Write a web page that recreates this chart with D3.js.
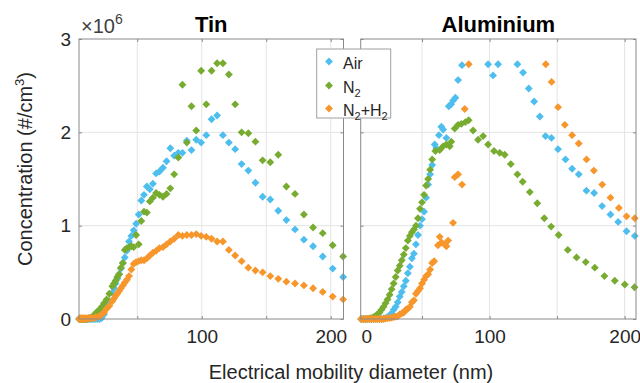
<!DOCTYPE html>
<html><head><meta charset="utf-8">
<script src="https://cdn.jsdelivr.net/npm/d3@7"></script>
<style>
html,body{margin:0;padding:0;background:#fff;}
svg{display:block;font-family:"Liberation Sans",Arial,Helvetica,sans-serif;}
</style></head><body>
<svg id="chart" width="640" height="383"></svg>
<script>
// ---------- DATA ----------
const seriesNames = ['Air', 'N2', 'N2+H2'];
const colors = ['#4DBEEE', '#77AC30', '#F7962B'];
const xTicks = [50, 100, 150, 200];
const xTickLabels = ['', '100', '', '200'];
const yTicks = [0, 1, 2, 3];
const yTickLabels = ['0', '1', '2', '3'];

// Tin (x 1e6 #/cm3), shared mobility-diameter bins (nm)
const tinDiam = [5.0,5.5,5.9,6.4,6.9,7.5,8.1,8.7,9.4,10.2,
  11.0,11.9,12.9,14.0,15.1,16.3,17.7,19.1,20.7,22.4,
  24.2,26.2,28.3,30.6,31.9,33.2,34.5,35.9,37.3,38.8,
  40.3,41.9,43.6,45.4,47.2,49.1,51.1,53.1,55.2,57.4,
  59.7,62.1,64.6,67.2,69.9,72.7,75.6,78.6,81.8,85.0,
  88.4,92.0,95.7,99.5,103.5,107.6,111.9,116.4,121.0,125.9,
  130.9,136.1,141.6,147.2,153.1,159.3,165.6,172.3,179.2,186.3,
  193.8,201.5,209.6];
const tinAir = [0,0,0,0,0,0,0,0,0,0,
  0,0,0,0,0,0,0,0,0,0.01,
  0.05,0.12,0.19,0.28,0.33,0.38,0.43,0.48,0.54,0.6,
  0.66,0.73,0.83,0.89,0.95,1.02,1.12,1.27,1.33,1.42,
  1.39,1.45,1.56,1.58,1.62,1.69,1.83,1.75,1.78,1.78,
  1.91,1.81,1.92,1.89,1.97,2.14,2.18,1.97,1.89,1.82,
  1.66,1.59,1.46,1.31,1.28,1.16,1.06,0.96,0.85,0.78,
  0.67,0.54,0.45];
const tinN2 = [0,0,0,0,0,0,0,0,0,0,
  0,0.01,0.01,0.01,0.02,0.04,0.06,0.08,0.1,0.13,
  0.17,0.21,0.27,0.35,0.38,0.41,0.45,0.48,0.55,0.6,
  0.74,0.76,0.77,0.78,0.77,0.9,0.8,1.05,1.15,1.14,
  1.26,1.3,1.35,1.33,1.31,1.34,1.4,1.55,1.73,2.51,
  1.89,2.28,2.02,2.66,2.3,2.66,2.74,2.74,2.62,2.3,
  2.0,1.99,1.9,1.7,1.68,1.76,1.42,1.34,1.12,0.98,
  0.92,0.79,0.67];
const tinN2H2 = [0,0.01,0,0.01,0,0.01,0,0.01,0,0.01,
  0,0.01,0.01,0.01,0.01,0.01,0.02,0.02,0.03,0.05,
  0.07,0.11,0.14,0.19,0.22,0.25,0.27,0.3,0.33,0.36,
  0.39,0.42,0.46,0.53,0.59,0.61,0.62,0.63,0.63,0.65,
  0.68,0.71,0.73,0.76,0.77,0.8,0.83,0.86,0.9,0.89,
  0.9,0.9,0.91,0.89,0.88,0.86,0.83,0.83,0.74,0.68,
  0.62,0.55,0.52,0.5,0.46,0.43,0.4,0.38,0.36,0.33,
  0.29,0.24,0.21];

// Aluminium
const alAirDiam = [5,6.5,8,9.5,11,12.5,14,15.5,17,18.5,
  20,21.5,23,24.5,26,27.5,29,30.5,32,33.5,
  35,36.5,38,39.5,41,42.5,44,45.5,47,48.5,
  50,51.5,53,54.5,56,57.5,59.4,60.6,62.5,64.3,
  65.6,68,69.8,71.5,73,74.7,76.7,79.6,98.9,102.6,
  106.3,120.6,124.8,129,133,137.2,141.4,145.8,150.7,156.2,
  161.1,166,171.7,177.4,183.3,189.5,195.2,201.4,207.5];
const alAir = [0,0,0,0,0,0,0,0,0,0,
  0,0.005,0.01,0.02,0.04,0.06,0.1,0.13,0.18,0.24,
  0.29,0.35,0.41,0.49,0.56,0.65,0.7,0.8,0.9,1.0,
  1.07,1.15,1.3,1.44,1.55,1.65,1.87,1.83,1.97,2.06,
  2.03,1.94,2.28,2.3,2.34,2.37,2.56,2.72,2.73,2.61,
  2.73,2.73,2.64,2.47,2.33,2.17,1.96,1.94,1.82,1.71,
  1.61,1.55,1.375,1.35,1.21,1.12,1.04,0.94,0.89];
const alN2Diam = [5,6.5,8,9.5,11,12.5,14,15.5,17,18.5,
  20,21.5,23,24.5,26,27.5,29,30.5,32,33.5,
  35,36.5,38,39.5,41,42.5,44,45.5,47,48.5,
  50,51.5,53,54.5,56,57.5,59.9,63.1,65.6,68,
  70.5,71.7,74.2,76.7,79.1,82.1,84.5,87.8,91.5,95.2,
  98.9,103.3,107.5,111.2,115.7,120.6,124.5,129.8,135.3,140.5,
  145.6,151.1,157.9,164.4,171.2,177.9,185,192.7,200.1,207.3];
const alN2 = [0,0,0,0,0.005,0.01,0.02,0.03,0.05,0.07,
  0.1,0.13,0.17,0.21,0.26,0.32,0.38,0.45,0.52,0.57,
  0.63,0.69,0.76,0.84,0.89,0.93,0.96,1.0,1.08,1.18,
  1.25,1.33,1.43,1.5,1.6,1.71,1.8,1.81,1.85,1.87,
  1.85,1.9,2.04,2.08,2.09,2.11,2.13,2.02,1.92,1.96,
  1.87,1.8,1.78,1.76,1.66,1.55,1.47,1.36,1.24,1.08,
  0.99,0.9,0.74,0.66,0.61,0.55,0.46,0.41,0.37,0.34];
const alN2H2Diam = [5,6.5,8,9.5,11,12.5,14,15.5,17,18.5,
  20,21.5,23,24.5,26,27.5,29,30.5,32,33.5,
  35,36.5,38,39.5,41,42.5,44,45.5,47,48.5,
  50,51.5,53,54.5,56,57.5,59,61.8,63.1,64.5,
  66.8,68,69.3,73,74.2,76.7,79.6,81.6,84.6,141.6,
  145.9,150.7,155.7,161.1,166,171.8,177.2,183.4,189.5,195.7,
  201.4,207.5];
const alN2H2 = [0,0,0,0,0,0,0,0,0,0,
  0,0,0.005,0.01,0.01,0.015,0.02,0.025,0.03,0.05,
  0.06,0.07,0.1,0.11,0.13,0.18,0.2,0.27,0.3,0.33,
  0.38,0.42,0.46,0.48,0.53,0.6,0.62,0.79,0.88,0.82,
  0.8,0.78,0.84,1.03,1.52,1.55,1.44,2.25,2.73,2.73,
  2.54,2.27,2.08,1.97,1.88,1.71,1.59,1.44,1.3,1.19,
  1.1,1.08];

// ---------- LAYOUT ----------
const svg = d3.select('#chart');
const yTop = 39, yBot = 319;
const axisGray = '#8a8a8a', gridGray = '#e4e4e4', textCol = '#262626';
const panels = [
  {title: 'Tin', x0: 79, x1: 343.5, dom: [4.8, 209.9], yLabels: true, zero: false,
   series: [[tinDiam, tinAir], [tinDiam, tinN2], [tinDiam, tinN2H2]]},
  {title: 'Aluminium', x0: 360.7, x1: 636, dom: [4.6, 208.4], yLabels: false, zero: true,
   series: [[alAirDiam, alAir], [alN2Diam, alN2], [alN2H2Diam, alN2H2]]}
];

const diamond = {draw(ctx, size){const r = Math.sqrt(size/2);
  ctx.moveTo(0,-r); ctx.lineTo(r,0); ctx.lineTo(0,r); ctx.lineTo(-r,0); ctx.closePath();}};
const sym = d3.symbol().type(diamond).size(31);

function styleAxis(a){
  a.select('.domain').remove();
  a.attr('font-family', null).attr('font-size', null);
  a.selectAll('.tick line').attr('stroke', axisGray);
  a.selectAll('.tick text').attr('fill', textCol).attr('font-size', 19);
}

panels.forEach(p => {
  const x = d3.scaleLinear().domain(p.dom).range([p.x0, p.x1]);
  const y = d3.scaleLinear().domain([0, 3]).range([yBot, yTop]);
  const g = svg.append('g');
  g.append('rect').attr('x', p.x0).attr('y', yTop).attr('width', p.x1 - p.x0).attr('height', yBot - yTop).attr('fill', '#fff');
  // grid
  g.append('g').selectAll('line').data(xTicks).join('line')
    .attr('x1', d => x(d)).attr('x2', d => x(d)).attr('y1', yTop).attr('y2', yBot)
    .attr('stroke', gridGray);
  g.append('g').selectAll('line').data(yTicks.filter(v => v > 0 && v < 3)).join('line')
    .attr('y1', d => y(d)).attr('y2', d => y(d)).attr('x1', p.x0).attr('x2', p.x1)
    .attr('stroke', gridGray);
  // axes
  const ab = g.append('g').attr('transform', `translate(0,${yBot})`)
    .call(d3.axisBottom(x).tickValues(xTicks).tickSize(-3).tickPadding(11).tickFormat((d, i) => xTickLabels[i]));
  styleAxis(ab);
  const at = g.append('g').attr('transform', `translate(0,${yTop})`)
    .call(d3.axisTop(x).tickValues(xTicks).tickSize(-3).tickFormat(''));
  styleAxis(at);
  const al = g.append('g').attr('transform', `translate(${p.x0},0)`)
    .call(d3.axisLeft(y).tickValues(yTicks).tickSize(-3).tickPadding(8).tickFormat((d, i) => p.yLabels ? yTickLabels[i] : ''));
  styleAxis(al);
  const ar = g.append('g').attr('transform', `translate(${p.x1},0)`)
    .call(d3.axisRight(y).tickValues(yTicks).tickSize(-3).tickFormat(''));
  styleAxis(ar);
  if (p.zero) {
    g.append('text').attr('x', x(p.dom[0]) + 6).attr('y', yBot + 11).attr('dy', '0.71em')
      .attr('text-anchor', 'middle').attr('font-size', 19).attr('fill', textCol).text('0');
  }
  // points
  p.series.forEach((s, i) => {
    g.append('g').selectAll('path').data(d3.zip(s[0], s[1])).join('path')
      .attr('d', sym).attr('transform', d => `translate(${x(d[0])},${y(d[1])})`)
      .attr('fill', colors[i]);
  });
  // box
  g.append('rect').attr('x', p.x0).attr('y', yTop).attr('width', p.x1 - p.x0).attr('height', yBot - yTop)
    .attr('fill', 'none').attr('stroke', axisGray).attr('stroke-width', 1);
  // title
  g.append('text').attr('x', (p.x0 + p.x1) / 2).attr('y', 32).attr('text-anchor', 'middle')
    .attr('font-size', 22).attr('font-weight', 'bold').attr('fill', '#000').text(p.title);
});

// exponent label
const ex = svg.append('text').attr('x', 81).attr('y', 33).attr('font-size', 20).attr('fill', '#404040');
ex.append('tspan').text('\u00d710');
ex.append('tspan').attr('dy', -9).attr('font-size', 14).text('6');

// y label
const yl = svg.append('text').attr('transform', 'translate(31.5,169) rotate(-90)')
  .attr('text-anchor', 'middle').attr('font-size', 20).attr('fill', textCol);
yl.append('tspan').text('Concentration (#/cm');
yl.append('tspan').attr('dy', -8).attr('font-size', 13).text('3');
yl.append('tspan').attr('dy', 8).text(')');

// x label
svg.append('text').attr('x', 351).attr('y', 379).attr('text-anchor', 'middle')
  .attr('font-size', 20).attr('fill', textCol).text('Electrical mobility diameter (nm)');

// legend
const lg = svg.append('g');
lg.append('rect').attr('x', 316.7).attr('y', 49).attr('width', 74).attr('height', 69)
  .attr('fill', '#fff').attr('stroke', '#a0a0a0');
const rowY = [61.5, 85.5, 108.5];
seriesNames.forEach((name, i) => {
  lg.append('path').attr('d', sym).attr('transform', `translate(329,${rowY[i]})`).attr('fill', colors[i]);
  const t = lg.append('text').attr('x', 343).attr('y', rowY[i] + 7).attr('font-size', 16).attr('fill', textCol);
  const parts = name.split(/(\d)/).filter(s => s.length);
  let sub = false;
  parts.forEach(part => {
    if (/\d/.test(part)) {
      t.append('tspan').attr('dy', 4).attr('font-size', 11).text(part); sub = true;
    } else {
      const ts = t.append('tspan').text(part);
      if (sub) { ts.attr('dy', -4); sub = false; }
    }
  });
});
</script>
</body></html>
